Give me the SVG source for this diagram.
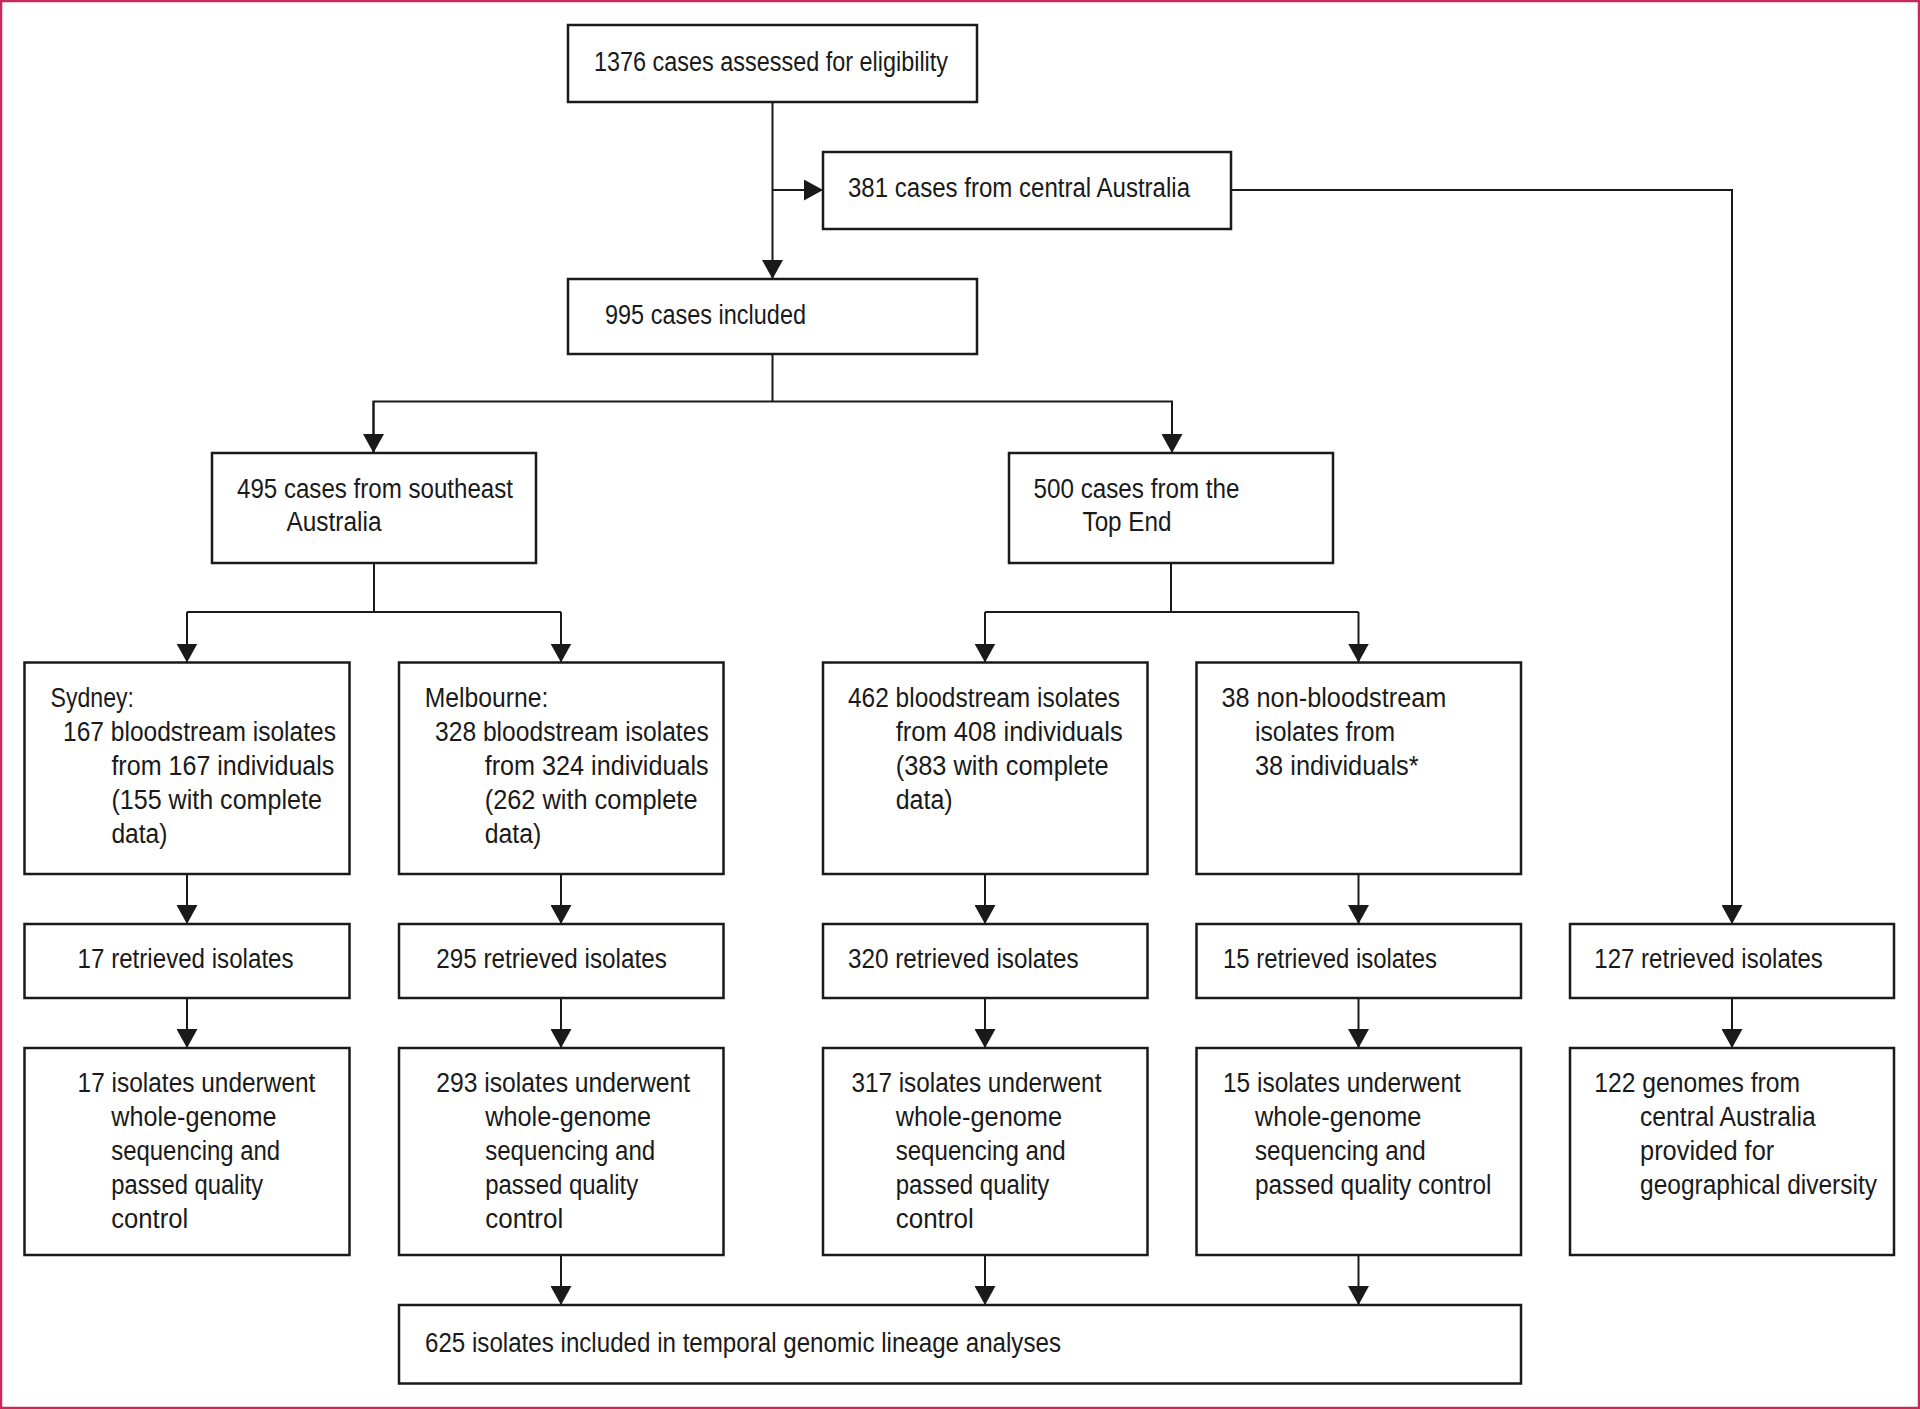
<svg xmlns="http://www.w3.org/2000/svg" width="1920" height="1409" viewBox="0 0 1920 1409">
<defs>
<style>
.box{fill:#fff;stroke:#1a1a1a;stroke-width:2.5}
.con{fill:none;stroke:#1a1a1a;stroke-width:2}
text{font-family:"Liberation Sans",Arial,sans-serif;font-size:27px;fill:#1a1a1a}
</style>
<marker id="ah" markerUnits="userSpaceOnUse" markerWidth="19" markerHeight="21" refX="19" refY="10.5" orient="auto">
<path d="M0,0 L19,10.5 L0,21 Z" fill="#1a1a1a"/>
</marker>
</defs>
<rect x="0" y="0" width="1920" height="1409" fill="#fff"/>
<rect x="1" y="1" width="1918" height="1407" fill="none" stroke="#c8285a" stroke-width="2.5"/>

<g id="connectors" class="con">
<line x1="772.5" y1="102" x2="772.5" y2="279" marker-end="url(#ah)"/>
<line x1="772.5" y1="190" x2="823" y2="190" marker-end="url(#ah)"/>
<polyline points="1231,190 1732,190 1732,924" marker-end="url(#ah)"/>
<polyline points="772.5,354 772.5,401.5"/>
<polyline points="373.5,453 373.5,401.5 1172,401.5 1172,453" />
<line x1="373.5" y1="401.5" x2="373.5" y2="453" marker-end="url(#ah)"/>
<line x1="1172" y1="401.5" x2="1172" y2="453" marker-end="url(#ah)"/>
<line x1="374" y1="563" x2="374" y2="612"/>
<line x1="187" y1="612" x2="561" y2="612"/>
<line x1="187" y1="612" x2="187" y2="662.5" marker-end="url(#ah)"/>
<line x1="561" y1="612" x2="561" y2="662.5" marker-end="url(#ah)"/>
<line x1="1171" y1="563" x2="1171" y2="612"/>
<line x1="985" y1="612" x2="1358.5" y2="612"/>
<line x1="985" y1="612" x2="985" y2="662.5" marker-end="url(#ah)"/>
<line x1="1358.5" y1="612" x2="1358.5" y2="662.5" marker-end="url(#ah)"/>
<line x1="187" y1="874" x2="187" y2="924" marker-end="url(#ah)"/>
<line x1="561" y1="874" x2="561" y2="924" marker-end="url(#ah)"/>
<line x1="985" y1="874" x2="985" y2="924" marker-end="url(#ah)"/>
<line x1="1358.5" y1="874" x2="1358.5" y2="924" marker-end="url(#ah)"/>
<line x1="187" y1="998" x2="187" y2="1048" marker-end="url(#ah)"/>
<line x1="561" y1="998" x2="561" y2="1048" marker-end="url(#ah)"/>
<line x1="985" y1="998" x2="985" y2="1048" marker-end="url(#ah)"/>
<line x1="1358.5" y1="998" x2="1358.5" y2="1048" marker-end="url(#ah)"/>
<line x1="1732" y1="998" x2="1732" y2="1048" marker-end="url(#ah)"/>
<line x1="561" y1="1255" x2="561" y2="1305" marker-end="url(#ah)"/>
<line x1="985" y1="1255" x2="985" y2="1305" marker-end="url(#ah)"/>
<line x1="1358.5" y1="1255" x2="1358.5" y2="1305" marker-end="url(#ah)"/>
</g>

<g id="n-assessed">
<rect class="box" x="568" y="25" width="409" height="77"/>
<text x="594" y="71" textLength="354" lengthAdjust="spacingAndGlyphs">1376 cases assessed for eligibility</text>
</g>
<g id="n-central">
<rect class="box" x="823" y="152" width="408" height="77"/>
<text x="848" y="197" textLength="342" lengthAdjust="spacingAndGlyphs">381 cases from central Australia</text>
</g>
<g id="n-included">
<rect class="box" x="568" y="279" width="409" height="75"/>
<text x="605" y="324" textLength="201" lengthAdjust="spacingAndGlyphs">995 cases included</text>
</g>
<g id="n-southeast">
<rect class="box" x="212" y="453" width="324" height="110"/>
<text x="237" y="498" textLength="276" lengthAdjust="spacingAndGlyphs">495 cases from southeast</text>
<text x="286.5" y="531" textLength="95" lengthAdjust="spacingAndGlyphs">Australia</text>
</g>
<g id="n-topend">
<rect class="box" x="1009" y="453" width="324" height="110"/>
<text x="1033.5" y="498" textLength="206" lengthAdjust="spacingAndGlyphs">500 cases from the</text>
<text x="1082.5" y="531" textLength="89" lengthAdjust="spacingAndGlyphs">Top End</text>
</g>
<g id="n-sydney">
<rect class="box" x="24.5" y="662.5" width="325" height="211.5"/>
<text x="50.5" y="707" textLength="83.5" lengthAdjust="spacingAndGlyphs">Sydney:</text>
<text x="63" y="741" textLength="273" lengthAdjust="spacingAndGlyphs">167 bloodstream isolates</text>
<text x="111.4" y="775" textLength="223" lengthAdjust="spacingAndGlyphs">from 167 individuals</text>
<text x="111.4" y="809" textLength="210.5" lengthAdjust="spacingAndGlyphs">(155 with complete</text>
<text x="111.4" y="843" textLength="56" lengthAdjust="spacingAndGlyphs">data)</text>
</g>
<g id="n-melbourne">
<rect class="box" x="399" y="662.5" width="324.5" height="211.5"/>
<text x="424.7" y="707" textLength="123.6" lengthAdjust="spacingAndGlyphs">Melbourne:</text>
<text x="435" y="741" textLength="273.7" lengthAdjust="spacingAndGlyphs">328 bloodstream isolates</text>
<text x="484.7" y="775" textLength="224" lengthAdjust="spacingAndGlyphs">from 324 individuals</text>
<text x="484.7" y="809" textLength="212.8" lengthAdjust="spacingAndGlyphs">(262 with complete</text>
<text x="484.7" y="843" textLength="56.6" lengthAdjust="spacingAndGlyphs">data)</text>
</g>
<g id="n-te-blood">
<rect class="box" x="823" y="662.5" width="324.5" height="211.5"/>
<text x="848" y="707" textLength="272" lengthAdjust="spacingAndGlyphs">462 bloodstream isolates</text>
<text x="895.7" y="741" textLength="227" lengthAdjust="spacingAndGlyphs">from 408 individuals</text>
<text x="895.7" y="775" textLength="213" lengthAdjust="spacingAndGlyphs">(383 with complete</text>
<text x="895.7" y="809" textLength="57" lengthAdjust="spacingAndGlyphs">data)</text>
</g>
<g id="n-te-nonblood">
<rect class="box" x="1196.5" y="662.5" width="324.5" height="211.5"/>
<text x="1221.4" y="707" textLength="225" lengthAdjust="spacingAndGlyphs">38 non-bloodstream</text>
<text x="1255" y="741" textLength="140" lengthAdjust="spacingAndGlyphs">isolates from</text>
<text x="1255" y="775" textLength="163.6" lengthAdjust="spacingAndGlyphs">38 individuals*</text>
</g>
<g id="n-ret-syd">
<rect class="box" x="24.5" y="924" width="325" height="74"/>
<text x="77.6" y="968" textLength="216" lengthAdjust="spacingAndGlyphs">17 retrieved isolates</text>
</g>
<g id="n-ret-mel">
<rect class="box" x="399" y="924" width="324.5" height="74"/>
<text x="436.2" y="968" textLength="230.6" lengthAdjust="spacingAndGlyphs">295 retrieved isolates</text>
</g>
<g id="n-ret-teb">
<rect class="box" x="823" y="924" width="324.5" height="74"/>
<text x="848" y="968" textLength="230.7" lengthAdjust="spacingAndGlyphs">320 retrieved isolates</text>
</g>
<g id="n-ret-ten">
<rect class="box" x="1196.5" y="924" width="324.5" height="74"/>
<text x="1223" y="968" textLength="214" lengthAdjust="spacingAndGlyphs">15 retrieved isolates</text>
</g>
<g id="n-ret-ca">
<rect class="box" x="1570" y="924" width="324" height="74"/>
<text x="1594.3" y="968" textLength="228.6" lengthAdjust="spacingAndGlyphs">127 retrieved isolates</text>
</g>
<g id="n-wgs-syd">
<rect class="box" x="24.5" y="1048" width="325" height="207"/>
<text x="77.6" y="1092" textLength="237.8" lengthAdjust="spacingAndGlyphs">17 isolates underwent</text>
<text x="111.2" y="1126" textLength="165.3" lengthAdjust="spacingAndGlyphs">whole-genome</text>
<text x="111.2" y="1160" textLength="169" lengthAdjust="spacingAndGlyphs">sequencing and</text>
<text x="111.2" y="1194" textLength="152" lengthAdjust="spacingAndGlyphs">passed quality</text>
<text x="111.2" y="1228" textLength="77" lengthAdjust="spacingAndGlyphs">control</text>
</g>
<g id="n-wgs-mel">
<rect class="box" x="399" y="1048" width="324.5" height="207"/>
<text x="436.2" y="1092" textLength="254" lengthAdjust="spacingAndGlyphs">293 isolates underwent</text>
<text x="485.2" y="1126" textLength="166" lengthAdjust="spacingAndGlyphs">whole-genome</text>
<text x="485.2" y="1160" textLength="170" lengthAdjust="spacingAndGlyphs">sequencing and</text>
<text x="485.2" y="1194" textLength="153" lengthAdjust="spacingAndGlyphs">passed quality</text>
<text x="485.2" y="1228" textLength="78" lengthAdjust="spacingAndGlyphs">control</text>
</g>
<g id="n-wgs-teb">
<rect class="box" x="823" y="1048" width="324.5" height="207"/>
<text x="851.4" y="1092" textLength="250" lengthAdjust="spacingAndGlyphs">317 isolates underwent</text>
<text x="895.7" y="1126" textLength="166.4" lengthAdjust="spacingAndGlyphs">whole-genome</text>
<text x="895.7" y="1160" textLength="170" lengthAdjust="spacingAndGlyphs">sequencing and</text>
<text x="895.7" y="1194" textLength="153.6" lengthAdjust="spacingAndGlyphs">passed quality</text>
<text x="895.7" y="1228" textLength="78" lengthAdjust="spacingAndGlyphs">control</text>
</g>
<g id="n-wgs-ten">
<rect class="box" x="1196.5" y="1048" width="324.5" height="207"/>
<text x="1223" y="1092" textLength="237.8" lengthAdjust="spacingAndGlyphs">15 isolates underwent</text>
<text x="1255" y="1126" textLength="166.4" lengthAdjust="spacingAndGlyphs">whole-genome</text>
<text x="1255" y="1160" textLength="170.7" lengthAdjust="spacingAndGlyphs">sequencing and</text>
<text x="1255" y="1194" textLength="236.4" lengthAdjust="spacingAndGlyphs">passed quality control</text>
</g>
<g id="n-genomes-ca">
<rect class="box" x="1570" y="1048" width="324" height="207"/>
<text x="1594.3" y="1092" textLength="205.7" lengthAdjust="spacingAndGlyphs">122 genomes from</text>
<text x="1640" y="1126" textLength="175.7" lengthAdjust="spacingAndGlyphs">central Australia</text>
<text x="1640" y="1160" textLength="134.3" lengthAdjust="spacingAndGlyphs">provided for</text>
<text x="1640" y="1194" textLength="237" lengthAdjust="spacingAndGlyphs">geographical diversity</text>
</g>
<g id="n-final">
<rect class="box" x="399" y="1305" width="1122" height="78.5"/>
<text x="425" y="1352" textLength="636" lengthAdjust="spacingAndGlyphs">625 isolates included in temporal genomic lineage analyses</text>
</g>
</svg>
